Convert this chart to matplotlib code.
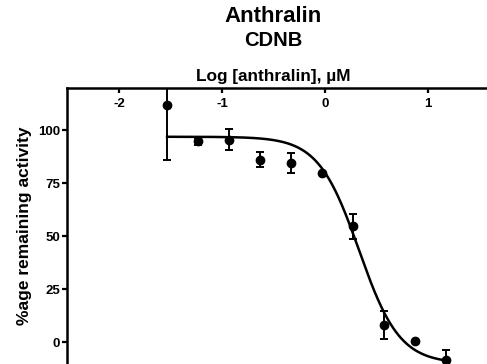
"""Anthralin dose-response (CDNB assay), redrawn."""

import matplotlib

matplotlib.use("Agg")
import matplotlib.pyplot as plt
import numpy as np

plt.rcParams["font.family"] = ["Liberation Sans", "DejaVu Sans"]
plt.rcParams["font.weight"] = "bold"

# measured points: log10 concentration (uM), mean %activity, SEM
LOG_CONC = [-1.533, -1.232, -0.931, -0.630, -0.329, -0.028, 0.273, 0.574, 0.875, 1.176]
ACTIVITY = [112.0, 94.8, 95.6, 86.2, 84.6, 79.9, 54.7, 8.3, 0.5, -8.2]
SEM = [26.0, 1.5, 5.0, 3.6, 4.9, 0.0, 5.8, 6.7, 0.0, 4.8]

# four-parameter logistic fit
FIT_TOP = 97.0
FIT_BOTTOM = -10.0
FIT_LOG_IC50 = 0.33
FIT_HILL = 2.2

X_TICKS = [-2, -1, 0, 1]
Y_TICKS = [0, 25, 50, 75, 100]

W, H = 487, 364
DPI = 100


def four_pl(x):
    return FIT_BOTTOM + (FIT_TOP - FIT_BOTTOM) / (1 + 10 ** ((x - FIT_LOG_IC50) * FIT_HILL))


def main():
    fig = plt.figure(figsize=(W / DPI, H / DPI), dpi=DPI)

    # axes in pixel terms: left spine x=67, top spine y=88, bottom cut off by the image
    ymin, ymax = -20.0, 120.0
    px_per_unit = 2.12
    top_px = 88
    height_px = (ymax - ymin) * px_per_unit
    left_px = 67
    ax = fig.add_axes([left_px / W, 1 - (top_px + height_px) / H, (W - left_px) / W, height_px / H])

    x0_px, px_per_log = 325.0, 103.0
    ax.set_xlim((left_px - x0_px) / px_per_log, (W - x0_px) / px_per_log)
    ax.set_ylim(ymin, ymax)

    xs = np.linspace(LOG_CONC[0], LOG_CONC[-1], 300)
    ax.plot(xs, four_pl(xs), color="black", linewidth=1.8, zorder=2)

    ax.errorbar(
        LOG_CONC,
        ACTIVITY,
        yerr=SEM,
        fmt="o",
        color="black",
        markersize=6,
        elinewidth=1.4,
        capsize=3.2,
        capthick=1.4,
        zorder=3,
    )

    for side in ("right", "bottom"):
        ax.spines[side].set_visible(False)
    for side in ("left", "top"):
        ax.spines[side].set_linewidth(1.8)

    ax.set_xticks(X_TICKS)
    ax.set_xticklabels([str(t) for t in X_TICKS])
    ax.xaxis.set_ticks_position("top")
    ax.tick_params(axis="x", top=True, labeltop=True, bottom=False, labelbottom=False,
                   direction="in", length=3.6, width=1.6, pad=-15.5, labelsize=9.5)

    ax.set_yticks(Y_TICKS)
    ax.set_yticklabels([str(t) for t in Y_TICKS])
    ax.tick_params(axis="y", direction="out", length=3.6, width=1.6, pad=1.2, labelsize=9.5)

    cx = 273 / W
    fig.text(cx, 1 - 17 / H, "Anthralin", ha="center", va="center", fontsize=16, fontweight="bold")
    fig.text(cx, 1 - 40 / H, "CDNB", ha="center", va="center", fontsize=14.5, fontweight="bold")
    fig.text(cx, 1 - 76 / H, "Log [anthralin], µM", ha="center", va="center", fontsize=12.4, fontweight="bold")
    fig.text(25 / W, 1 - 226 / H, "%age remaining activity", ha="center", va="center",
             rotation=90, fontsize=12.5, fontweight="bold")

    fig.savefig("out.png", dpi=DPI)
    plt.close(fig)


if __name__ == "__main__":
    main()
